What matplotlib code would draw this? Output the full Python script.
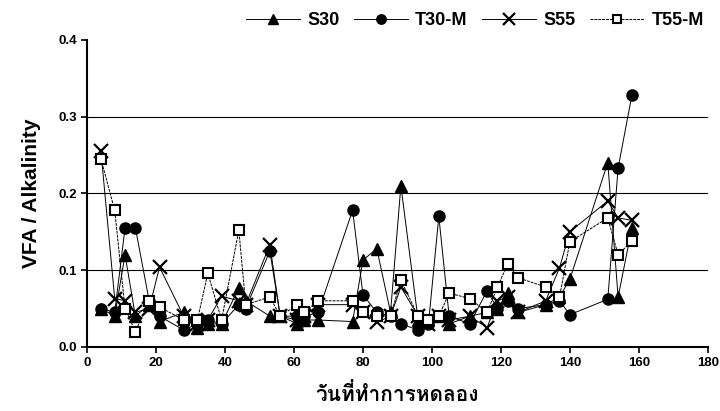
import matplotlib
matplotlib.use("Agg")
import matplotlib.pyplot as plt
from matplotlib import font_manager
from matplotlib.ft2font import FT2Font

# Days of the experiment (x values shared by all four series)
days = [4, 8, 11, 14, 18, 21, 28, 32, 35, 39, 44, 46, 53, 56, 61, 63, 67,
        77, 80, 84, 88, 91, 96, 99, 102, 105, 111, 116, 119, 122, 125,
        133, 137, 140, 151, 154, 158]

s30 = [0.050, 0.040, 0.120, 0.040, 0.055, 0.033, 0.045, 0.025, 0.030, 0.030,
       0.077, 0.060, 0.040, 0.040, 0.030, 0.035, 0.035, 0.033, 0.113, 0.128,
       0.045, 0.210, 0.035, 0.035, 0.040, 0.030, 0.040, 0.045, 0.050, 0.070,
       0.045, 0.055, 0.065, 0.088, 0.240, 0.065, 0.155]
t30m = [0.050, 0.045, 0.155, 0.155, 0.060, 0.040, 0.022, 0.030, 0.035, 0.030,
        0.055, 0.050, 0.125, 0.040, 0.040, 0.040, 0.045, 0.178, 0.068, 0.045,
        0.040, 0.030, 0.022, 0.030, 0.170, 0.040, 0.030, 0.073, 0.050, 0.060,
        0.050, 0.055, 0.060, 0.042, 0.062, 0.233, 0.328]
s55 = [0.255, 0.063, 0.060, 0.045, 0.050, 0.104, 0.040, 0.030, 0.035, 0.066,
       0.060, 0.055, 0.133, 0.040, 0.035, 0.040, 0.055, 0.055, 0.045, 0.032,
       0.040, 0.078, 0.040, 0.030, 0.040, 0.035, 0.040, 0.025, 0.060, 0.065,
       0.045, 0.060, 0.103, 0.150, 0.190, 0.168, 0.165]
t55m = [0.245, 0.178, 0.050, 0.020, 0.060, 0.052, 0.035, 0.035, 0.096, 0.035,
        0.152, 0.055, 0.065, 0.040, 0.055, 0.045, 0.060, 0.060, 0.045, 0.040,
        0.040, 0.087, 0.040, 0.035, 0.040, 0.070, 0.063, 0.045, 0.078, 0.108,
        0.090, 0.078, 0.065, 0.137, 0.168, 0.120, 0.138]

series_names = ["S30", "T30-M", "S55", "T55-M"]
x_ticks = [0, 20, 40, 60, 80, 100, 120, 140, 160, 180]
y_ticks = [0.0, 0.1, 0.2, 0.3, 0.4]
x_label = "วันที่ทำการหดลอง"
y_label = "VFA / Alkalinity"


# Look for any installed font that can draw Thai
def find_thai_font():
    for f in font_manager.fontManager.ttflist:
        try:
            if 0x0E27 in FT2Font(f.fname).get_charmap():
                return f.name
        except Exception:
            pass
    return None


thai_font = find_thai_font()
base_family = ["Liberation Sans", "DejaVu Sans"]
thai_family = ([thai_font] if thai_font else []) + base_family
plt.rcParams["font.family"] = base_family

fig = plt.figure(figsize=(7.2, 4.11), dpi=100)
ax = fig.add_axes([0.121, 0.156, 0.862, 0.747])

styles = [
    dict(marker="^", mfc="black", mec="black", ms=9, ls="-"),
    dict(marker="o", mfc="black", mec="black", ms=8, ls="-"),
    dict(marker="x", mfc="none", mec="black", ms=9.5, mew=1.6, ls="-"),
    dict(marker="s", mfc="white", mec="black", ms=7.5, mew=1.5, ls=(0, (3, 1))),
]
for name, vals, st in zip(series_names, [s30, t30m, s55, t55m], styles):
    ax.plot(days, vals, color="black", lw=0.7, label=name, **st)

for yv in [0.1, 0.2, 0.3]:
    ax.axhline(yv, color="black", lw=0.8, zorder=0)

ax.set_xlim(0, 180)
ax.set_ylim(0, 0.4)
ax.set_xticks(x_ticks)
ax.set_yticks(y_ticks)
ax.set_yticklabels([f"{v:.1f}" for v in y_ticks])
ax.tick_params(axis="both", labelsize=9.5, width=1.2, length=4, direction="out")
for lab in ax.get_xticklabels() + ax.get_yticklabels():
    lab.set_fontweight("bold")
for side in ["top", "right"]:
    ax.spines[side].set_visible(False)
for side in ["left", "bottom"]:
    ax.spines[side].set_linewidth(1.5)

ax.set_ylabel(y_label, fontsize=15, fontweight="bold", labelpad=12)
ax.set_xlabel(x_label, fontsize=15, fontweight="bold", family=thai_family,
              labelpad=10)

fig.legend(loc="upper right", bbox_to_anchor=(1.0, 1.01), ncol=4,
           frameon=False, handlelength=3.0, columnspacing=0.8,
           handletextpad=0.4, markerscale=0.85,
           prop=dict(size=13, weight="bold"))

fig.savefig("out.png", dpi=100)
